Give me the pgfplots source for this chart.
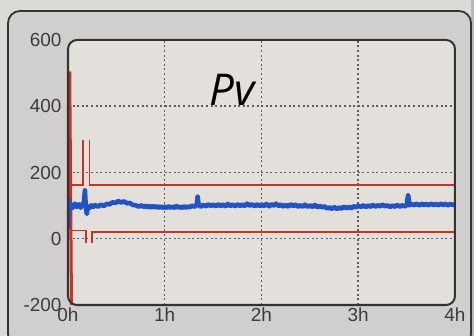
\documentclass[border=0pt]{standalone}
\usepackage{fontspec}
\setmainfont{Liberation Sans}
\newfontfamily\titlefont{Open Sans}
\usepackage{pgfplots}
\pgfplotsset{compat=1.18}
\definecolor{bgout}{HTML}{DCDAD7}
\definecolor{panel}{HTML}{D0CFCE}
\definecolor{plotbg}{HTML}{E3E0DC}
\definecolor{framec}{HTML}{333333}
\definecolor{gridc}{HTML}{5E5E5E}
\definecolor{redl}{HTML}{C8322B}
\definecolor{bluel}{HTML}{2352C2}
\definecolor{labc}{HTML}{3C3C3C}
\begin{document}
\begin{tikzpicture}
\path[use as bounding box] (0,0) rectangle (474bp,336bp);
\fill[bgout] (0,0) rectangle (474bp,336bp);
\fill[black!28] (471bp,0) rectangle (474bp,336bp);
\draw[framec, line width=1.8bp, fill=panel, rounded corners=12bp] (8bp,-10bp) rectangle (471bp,325bp);
\begin{axis}[
  at={(68bp,31bp)}, anchor=south west,
  scale only axis, width=387bp, height=265bp,
  xmin=0, xmax=4, ymin=-200, ymax=600,
  xtick={1,2,3}, xticklabels={1h,2h,3h},
  extra x ticks={0,4}, extra x tick labels={0h,4h},
  ytick={0,200,400},
  extra y ticks={-200,600}, extra y tick labels={{-200},{600}},
  extra tick style={grid=none, tick style={draw=none}},
  tick style={draw=none},
  major tick length=0pt,
  axis line style={draw=none},
  axis background/.style={fill=plotbg, rounded corners=9bp},
  grid=major,
  major grid style={gridc, line width=1.5bp, dash pattern=on 2bp off 2.6bp},
  unbounded coords=jump,
  /pgf/number format/assume math mode=true,
  tick label style={font=\fontsize{19}{20}\selectfont, text=labc},
  yticklabel style={xshift=-3bp},
  xticklabel style={yshift=1bp},
  after end axis/.code={
    \draw[framec, line width=2bp, rounded corners=9bp] (rel axis cs:0,0) rectangle (rel axis cs:1,1);
    \node[anchor=base, inner sep=0pt] at (rel axis cs:0.424,0.751) {\titlefont\itshape\fontsize{44}{46}\selectfont Pv};
  },
]
% red start transient
\addplot[redl, line width=3bp, no marks] coordinates {(0.018,505) (0.036,-200)};
% upper limit
\addplot[redl, line width=1.6bp, no marks] coordinates {
(0.02,163) (0.155,163) (0.155,297) (nan,nan) (0.222,297) (0.222,163) (4,163)};
% lower limit
\addplot[redl, line width=1.6bp, no marks] coordinates {
(0.03,25) (0.186,25) (0.186,-12) (nan,nan) (0.245,-12) (0.245,20) (4,20)};
% Pv
\addplot[bluel, line width=4.6bp, no marks, line join=round] coordinates {
(0.00,30) (0.01,118) (0.02,88) (0.03,102) (0.05,94) (0.07,106) (0.09,96)
(0.11,104) (0.13,94) (0.15,103) (0.165,112) (0.175,146) (0.185,92) (0.195,75)
(0.205,98) (0.22,93) (0.24,101) (0.26,96) (0.28,102) (0.31,97) (0.34,103) (0.37,99)
(0.40,105) (0.43,104) (0.46,110) (0.49,108) (0.52,114) (0.55,109) (0.58,113)
(0.61,107) (0.64,108) (0.67,102) (0.70,101) (0.73,97) (0.76,101) (0.78,96) (0.80,100)
(0.82,95) (0.84,99) (0.86,94) (0.88,99) (0.90,95) (0.92,98) (0.94,93) (0.96,98) (0.98,93) (1.00,97)
(1.02,93) (1.04,98) (1.06,94) (1.08,97) (1.10,93) (1.12,99) (1.14,94) (1.16,97) (1.18,93) (1.20,98)
(1.22,94) (1.24,97) (1.26,95) (1.28,100) (1.31,97) (1.33,101) (1.34,127)
(1.35,102) (1.37,97) (1.40,102) (1.43,98) (1.45,104) (1.48,99) (1.50,103) (1.53,98) (1.55,104)
(1.58,99) (1.60,103) (1.63,98) (1.65,105) (1.68,99) (1.70,103) (1.73,98) (1.75,104) (1.78,99)
(1.80,103) (1.83,99) (1.85,106) (1.88,100) (1.90,104) (1.93,98) (1.95,104) (1.98,99) (2.00,103)
(2.03,99) (2.05,105) (2.08,98) (2.10,104) (2.13,100) (2.15,106) (2.18,99) (2.20,103) (2.23,97)
(2.25,102) (2.28,97) (2.30,104) (2.33,99) (2.35,103) (2.38,97) (2.40,101) (2.43,97) (2.45,103)
(2.48,96) (2.50,101) (2.53,96) (2.55,102) (2.58,95) (2.60,99) (2.63,95) (2.65,98) (2.68,91)
(2.70,95) (2.73,90) (2.75,96) (2.78,90) (2.80,94) (2.83,91) (2.85,97) (2.88,92) (2.90,96)
(2.93,92) (2.95,98) (2.98,95) (3.00,100) (3.03,96) (3.05,101) (3.08,96) (3.10,100) (3.13,97)
(3.15,102) (3.18,97) (3.20,101) (3.23,98) (3.25,103) (3.28,98) (3.30,101) (3.33,96) (3.35,100)
(3.38,97) (3.40,102) (3.43,97) (3.45,101) (3.48,98) (3.50,101) (3.515,132) (3.53,101)
(3.55,105) (3.58,101) (3.60,106) (3.63,101) (3.66,106) (3.68,101) (3.70,105) (3.73,101)
(3.75,106) (3.78,102) (3.80,105) (3.83,101) (3.85,106) (3.88,102) (3.90,105) (3.93,101)
(3.95,105) (3.98,102) (4.00,104)};
\end{axis}
\end{tikzpicture}
\end{document}
